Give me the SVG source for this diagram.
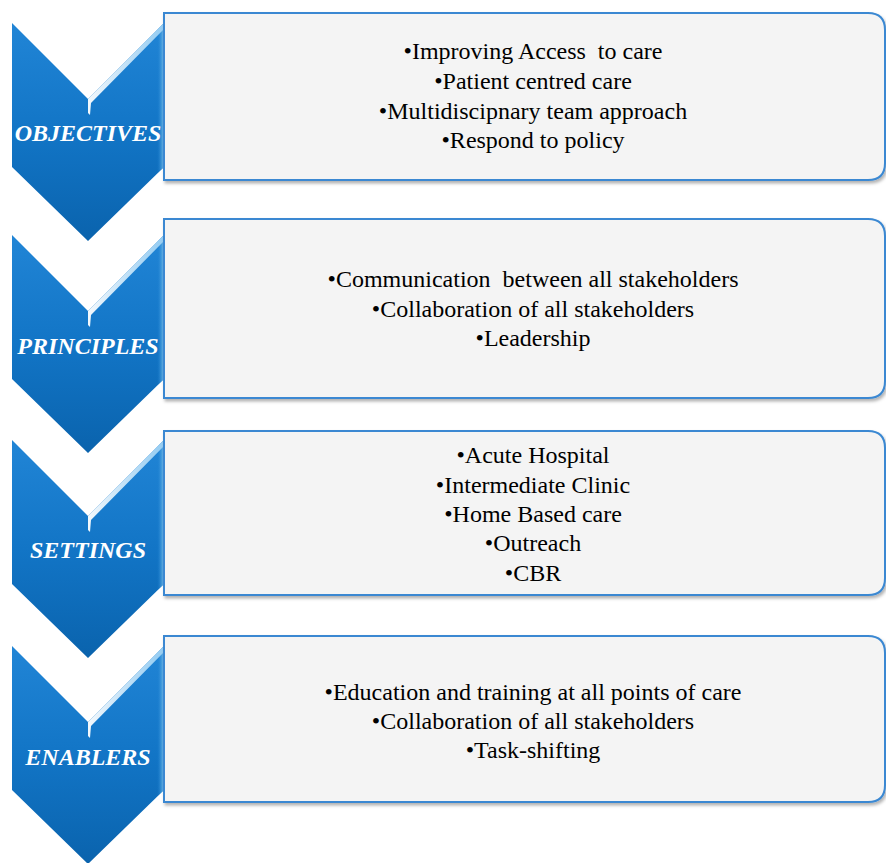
<svg xmlns="http://www.w3.org/2000/svg" width="886" height="863" viewBox="0 0 886 863">
<defs>
<linearGradient id="chev" x1="0" y1="0" x2="0" y2="1">
<stop offset="0" stop-color="#2185d6"/>
<stop offset="0.5" stop-color="#1275c6"/>
<stop offset="1" stop-color="#0a63ad"/>
</linearGradient>
<linearGradient id="hl" x1="0" y1="0" x2="1" y2="0">
<stop offset="0" stop-color="#ffffff" stop-opacity="0.95"/>
<stop offset="1" stop-color="#9fd3f5" stop-opacity="0.9"/>
</linearGradient>
<linearGradient id="side" x1="0" y1="0" x2="1" y2="0">
<stop offset="0" stop-color="#1a7fd0" stop-opacity="0"/>
<stop offset="1" stop-color="#7cc3f0"/>
</linearGradient>
<filter id="sh" x="-5%" y="-5%" width="110%" height="115%">
<feDropShadow dx="1.5" dy="2.5" stdDeviation="1.5" flood-color="#000" flood-opacity="0.3"/>
</filter>
<path id="chevShape" d="M12,0 L88,76 L164,0 L164,144 L88,218 L12,144 Z"/>
</defs>
<style>
.chev{fill:url(#chev);}
.hl{fill:url(#hl);}
.side{fill:url(#side);}
.box{fill:#f4f4f4;stroke:#3a88d2;stroke-width:2;filter:url(#sh);}
.lab{font-family:"Liberation Serif","Times New Roman",serif;font-size:24px;font-weight:bold;font-style:italic;fill:#ffffff;text-anchor:middle;}
.txt{font-family:"Liberation Serif","Times New Roman",serif;font-size:24px;fill:#000000;text-anchor:middle;white-space:pre;}
</style>
<rect width="886" height="863" fill="#ffffff"/>
<g id="connectors"/>

<g id="node-objectives">
<g transform="translate(0,23)">
<use href="#chevShape" class="chev"/>
<path class="side" d="M157,7 L164,0 L164,144 L157,151 Z"/>
<path class="hl" d="M88,76 L164,0 L164,6 L91,80 L90,92 L88,90 Z"/>
</g>
<text class="lab" x="88" y="141">OBJECTIVES</text>
</g>
<g id="box-objectives">
<path class="box" d="M164,13 H868 Q885,13 885,30 V163 Q885,180 868,180 H164 Z"/>
<text class="txt" x="533" y="59" xml:space="preserve">•Improving Access  to care</text>
<text class="txt" x="533" y="89">•Patient centred care</text>
<text class="txt" x="533" y="119">•Multidiscipnary team approach</text>
<text class="txt" x="533" y="148">•Respond to policy</text>
</g>

<g id="node-principles">
<g transform="translate(0,235)">
<use href="#chevShape" class="chev"/>
<path class="side" d="M157,7 L164,0 L164,144 L157,151 Z"/>
<path class="hl" d="M88,76 L164,0 L164,6 L91,80 L90,92 L88,90 Z"/>
</g>
<text class="lab" x="88" y="354">PRINCIPLES</text>
</g>
<g id="box-principles">
<path class="box" d="M164,219 H868 Q885,219 885,236 V381 Q885,398 868,398 H164 Z"/>
<text class="txt" x="533" y="287" xml:space="preserve">•Communication  between all stakeholders</text>
<text class="txt" x="533" y="317">•Collaboration of all stakeholders</text>
<text class="txt" x="533" y="346">•Leadership</text>
</g>

<g id="node-settings">
<g transform="translate(0,440)">
<use href="#chevShape" class="chev"/>
<path class="side" d="M157,7 L164,0 L164,144 L157,151 Z"/>
<path class="hl" d="M88,76 L164,0 L164,6 L91,80 L90,92 L88,90 Z"/>
</g>
<text class="lab" x="88" y="558">SETTINGS</text>
</g>
<g id="box-settings">
<path class="box" d="M164,431 H868 Q885,431 885,448 V578 Q885,595 868,595 H164 Z"/>
<text class="txt" x="533" y="463">•Acute Hospital</text>
<text class="txt" x="533" y="493">•Intermediate Clinic</text>
<text class="txt" x="533" y="522">•Home Based care</text>
<text class="txt" x="533" y="551">•Outreach</text>
<text class="txt" x="533" y="581">•CBR</text>
</g>

<g id="node-enablers">
<g transform="translate(0,646)">
<use href="#chevShape" class="chev"/>
<path class="side" d="M157,7 L164,0 L164,144 L157,151 Z"/>
<path class="hl" d="M88,76 L164,0 L164,6 L91,80 L90,92 L88,90 Z"/>
</g>
<text class="lab" x="88" y="765">ENABLERS</text>
</g>
<g id="box-enablers">
<path class="box" d="M164,636 H868 Q885,636 885,653 V785 Q885,802 868,802 H164 Z"/>
<text class="txt" x="533" y="700">•Education and training at all points of care</text>
<text class="txt" x="533" y="729">•Collaboration of all stakeholders</text>
<text class="txt" x="533" y="758">•Task-shifting</text>
</g>
</svg>
